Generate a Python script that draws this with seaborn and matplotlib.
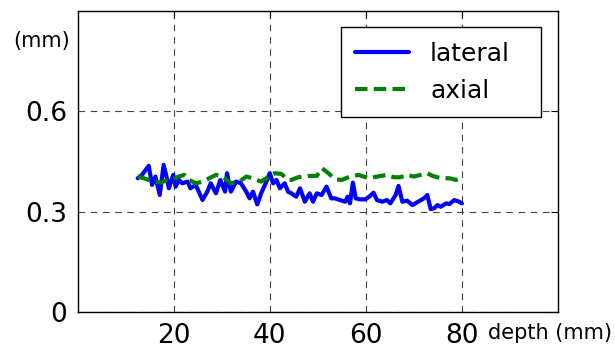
import matplotlib
matplotlib.use('Agg')
import matplotlib.pyplot as plt
import seaborn as sns

# ---- data ----
lateral_depth = [12.5, 13.4, 14.8, 15.5, 16.2, 17.1, 17.9, 18.5, 19.0, 19.9,
                 20.4, 21.1, 21.8, 22.9, 23.5, 24.6, 26.0, 27.0, 27.7, 28.8,
                 29.7, 30.7, 31.1, 31.9, 33.0, 34.0, 35.1, 35.8, 36.5, 37.4,
                 38.2, 39.3, 40.0, 40.7, 41.4, 42.1, 43.1, 43.8,
                 44.5, 45.5, 46.3, 47.3, 48.3, 49.0, 49.8, 50.8, 51.8, 52.8,
                 53.6, 54.6, 55.7, 56.2, 56.7, 57.3, 57.9, 58.8, 59.9, 60.7,
                 61.6, 62.3, 63.4, 64.4, 65.1, 66.2, 66.8, 67.6, 68.6, 69.7,
                 70.9, 72.1, 72.8, 73.5, 74.2, 74.9, 75.6, 76.7, 77.4, 78.4,
                 79.4, 80.0]
lateral_mm = [0.400, 0.410, 0.437, 0.380, 0.405, 0.350, 0.440, 0.405, 0.370, 0.410,
              0.375, 0.395, 0.385, 0.390, 0.370, 0.380, 0.335, 0.360, 0.385, 0.355,
              0.395, 0.360, 0.415, 0.360, 0.390, 0.385, 0.360, 0.340, 0.360, 0.322,
              0.355, 0.390, 0.415, 0.385, 0.395, 0.370, 0.385, 0.360,
              0.355, 0.345, 0.370, 0.330, 0.355, 0.330, 0.355, 0.350, 0.375, 0.340,
              0.340, 0.335, 0.330, 0.345, 0.325, 0.387, 0.340, 0.337, 0.337, 0.345,
              0.357, 0.335, 0.330, 0.335, 0.325, 0.350, 0.377, 0.330, 0.333, 0.320,
              0.330, 0.340, 0.350, 0.308, 0.310, 0.320, 0.315, 0.325, 0.323, 0.335,
              0.330, 0.325]
axial_depth = [12.5, 13.8, 15.9, 17.3, 18.7, 20.1, 21.1, 22.2, 23.2, 24.6,
               26.0, 27.4, 28.8, 30.2, 31.9, 33.7, 35.1, 36.5, 38.2, 39.6,
               41.0, 42.4, 43.8,
               44.5, 45.9, 48.0, 49.8, 50.9, 52.2, 53.6, 55.0, 56.7, 58.5,
               60.6, 62.3, 64.4, 65.8, 67.2, 68.6, 70.0, 71.4, 72.8, 73.9,
               75.6, 77.4, 78.8, 80.0]
axial_mm = [0.405, 0.400, 0.390, 0.387, 0.395, 0.400, 0.405, 0.410, 0.395, 0.385,
            0.390, 0.400, 0.410, 0.405, 0.385, 0.390, 0.405, 0.400, 0.390, 0.403,
            0.415, 0.413, 0.395,
            0.395, 0.403, 0.407, 0.407, 0.430, 0.415, 0.397, 0.395, 0.405, 0.410,
            0.400, 0.405, 0.410, 0.403, 0.403, 0.410, 0.405, 0.410, 0.415, 0.407,
            0.400, 0.400, 0.395, 0.400]
series_labels = ['lateral', 'axial']
x_ticks = [20, 40, 60, 80]
y_ticks = [0, 0.3, 0.6]
y_tick_labels = ['0', '0.3', '0.6']
x_title = 'depth (mm)'
y_title = '(mm)'

sns.set_theme(style='white')
plt.rcParams['font.family'] = ['DejaVu Sans']
plt.rcParams['text.color'] = 'black'

fig = plt.figure(figsize=(6.15, 3.59), dpi=100)
ax = fig.add_axes([0.1262, 0.1301, 0.7811, 0.8401])

sns.lineplot(x=lateral_depth, y=lateral_mm, ax=ax, color='#0000ff', linewidth=3.0,
             label=series_labels[0], estimator=None, sort=False)
sns.lineplot(x=axial_depth, y=axial_mm, ax=ax, color='#008000', linewidth=3.0,
             dashes=False, label=series_labels[1], estimator=None, sort=False)
ax.lines[-1].set_linestyle((0, (3.0, 1.5)))

ax.set_xlim(0, 100)
ax.set_ylim(0, 0.9)
ax.set_xticks(x_ticks)
ax.set_xticklabels([str(t) for t in x_ticks])
ax.set_yticks(y_ticks)
ax.set_yticklabels(y_tick_labels)
ax.set_xlabel('')
ax.set_ylabel('')
ax.set_axisbelow(True)
ax.grid(True, color='#444444', linestyle=(0, (6, 5)), linewidth=0.8)
ax.tick_params(direction='in', length=5, width=0.8, top=True, right=True,
               labelsize=19, pad=7.5, colors='black')
for s in ax.spines.values():
    s.set_color('black')
    s.set_linewidth(1.0)

leg = ax.legend(loc='upper left', bbox_to_anchor=(0.548, 0.0, 0.4165, 0.945),
                mode='expand', borderaxespad=0,
                fontsize=18, frameon=True, fancybox=False, edgecolor='black',
                framealpha=1, handlelength=2.16, handletextpad=0.84,
                borderpad=0.57, labelspacing=0.54)
leg.get_frame().set_linewidth(1.0)
for t in leg.get_texts():
    t.set_color('black')

fig.text(13 / 615, 1 - 41 / 359, y_title, ha='left', va='center', fontsize=15,
         color='black')
fig.text(488 / 615, 1 - 333 / 359, x_title, ha='left', va='center', fontsize=15,
         color='black')

fig.savefig('out.png', dpi=100)
